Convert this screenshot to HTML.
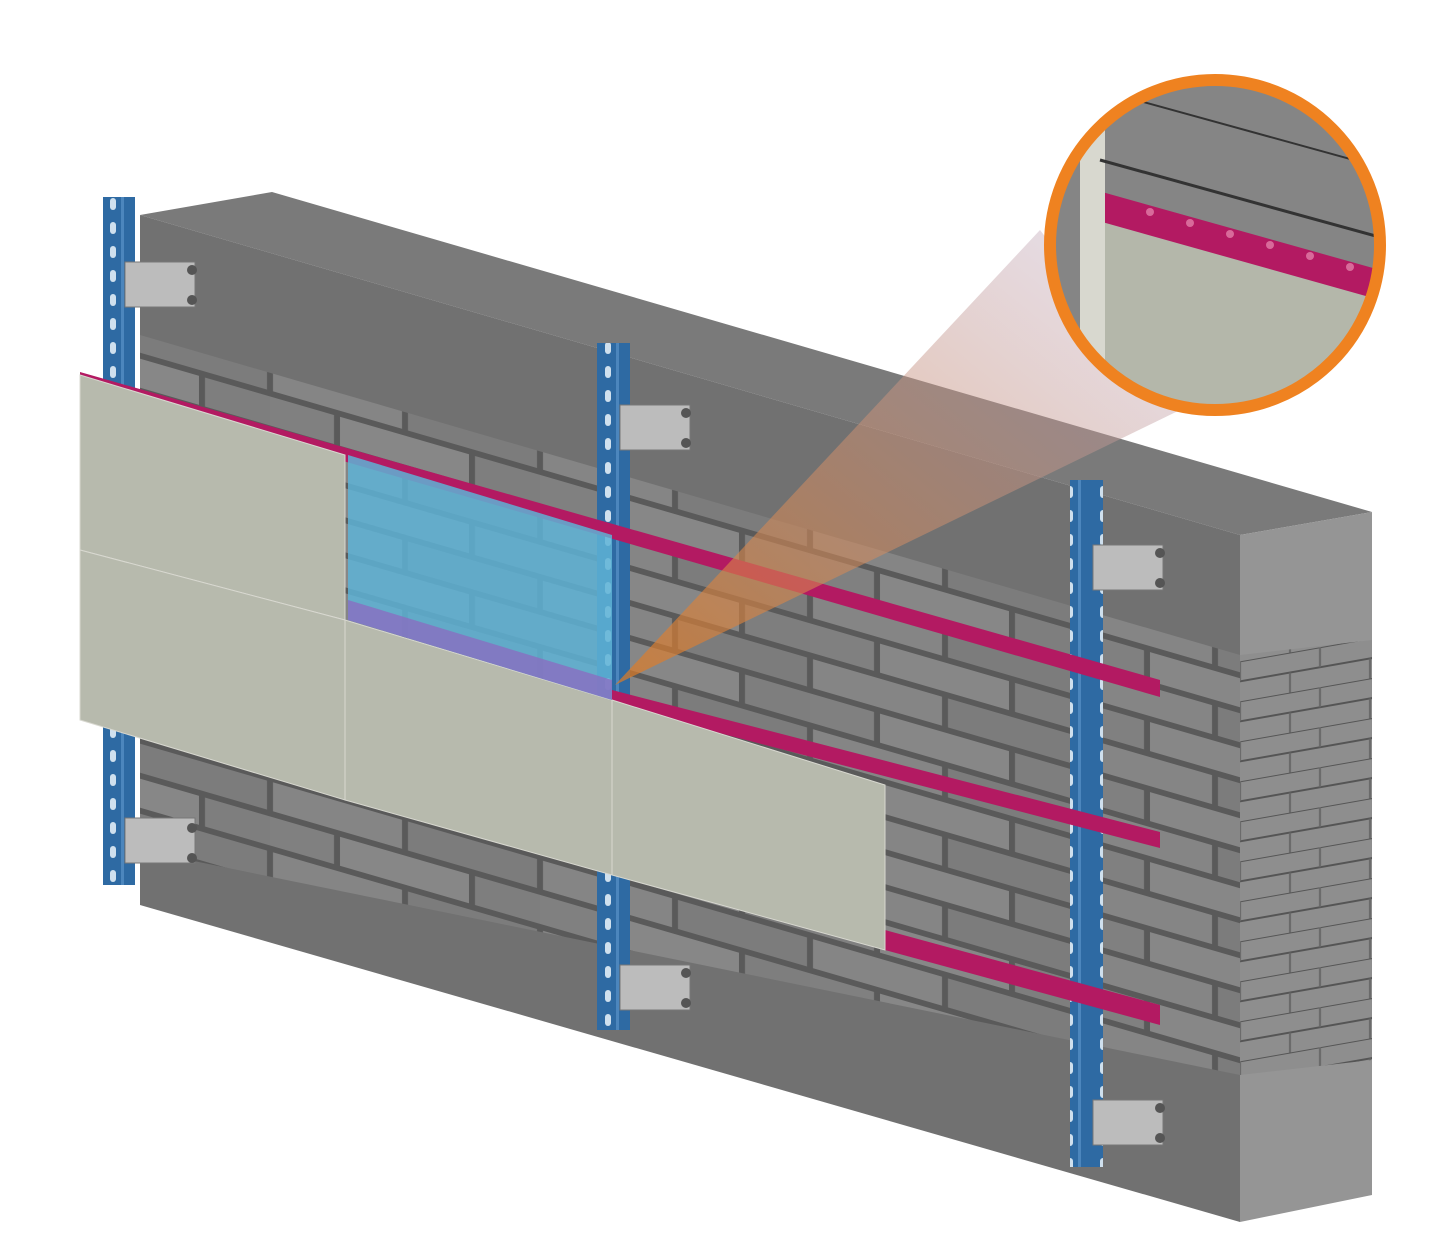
<!DOCTYPE html>
<html><head><meta charset="utf-8"><style>html,body{margin:0;padding:0;background:#fff}svg{display:block}</style></head><body>
<svg width="1446" height="1259" viewBox="0 0 1446 1259" xmlns="http://www.w3.org/2000/svg">
<defs>
<pattern id="brick" width="270" height="70" patternUnits="userSpaceOnUse" patternTransform="skewY(16.2)">
<rect width="270" height="70" fill="#5a5a5a"/>
<rect x="3" y="3" width="129" height="29" fill="#858585"/>
<rect x="138" y="3" width="129" height="29" fill="#7c7c7c"/>
<rect x="0" y="38" width="64" height="29" fill="#808080"/>
<rect x="70" y="38" width="129" height="29" fill="#878787"/>
<rect x="205" y="38" width="65" height="29" fill="#7e7e7e"/>
</pattern>
<pattern id="brick2" width="80" height="40" patternUnits="userSpaceOnUse" patternTransform="skewY(-10)">
<rect width="80" height="40" fill="#8e8e8e"/>
<line x1="0" y1="0" x2="80" y2="0" stroke="#555" stroke-width="2"/>
<line x1="0" y1="20" x2="80" y2="20" stroke="#555" stroke-width="2"/>
<line x1="40" y1="0" x2="40" y2="20" stroke="#666" stroke-width="2"/>
<line x1="10" y1="20" x2="10" y2="40" stroke="#666" stroke-width="2"/>
</pattern>
<pattern id="holes" width="33" height="24" patternUnits="userSpaceOnUse">
<rect width="33" height="24" fill="#2e6aa3"/>
<rect x="11" y="6" width="6" height="12" rx="3" fill="#cfe0ee"/>
<rect x="22" y="0" width="3" height="24" fill="#4c86bd"/>
</pattern>
<linearGradient id="cone" x1="0" y1="1" x2="1" y2="0">
<stop offset="0" stop-color="#e07a20" stop-opacity="0.7"/>
<stop offset="1" stop-color="#b9a8c8" stop-opacity="0.35"/>
</linearGradient>
<clipPath id="cc"><circle cx="1215" cy="245" r="165"/></clipPath>
</defs>
<polygon points="140,215 272,192 1372,512 1240,535" fill="#7a7a7a"/>
<polygon points="140,215 1240,535 1240,1222 140,905" fill="#717171"/>
<polygon points="140,335 1240,655 1240,1075 140,850" fill="url(#brick)"/>
<polygon points="1240,535 1372,512 1372,1195 1240,1222" fill="#959595"/>
<polygon points="1240,655 1372,640 1372,1060 1240,1075" fill="url(#brick2)"/>
<g>
<rect x="103" y="197" width="32" height="688" fill="url(#holes)"/>
<rect x="597" y="343" width="33" height="687" fill="url(#holes)"/>
<rect x="1070" y="480" width="33" height="687" fill="url(#holes)"/>
</g>
<g fill="#bcbcbc" stroke="#777">
<rect x="125" y="262" width="70" height="45"/><rect x="125" y="818" width="70" height="45"/>
<rect x="620" y="405" width="70" height="45"/><rect x="620" y="965" width="70" height="45"/>
<rect x="1093" y="545" width="70" height="45"/><rect x="1093" y="1100" width="70" height="45"/>
</g>
<g fill="#555">
<circle cx="192" cy="270" r="5"/><circle cx="192" cy="300" r="5"/><circle cx="192" cy="828" r="5"/><circle cx="192" cy="858" r="5"/>
<circle cx="686" cy="413" r="5"/><circle cx="686" cy="443" r="5"/><circle cx="686" cy="973" r="5"/><circle cx="686" cy="1003" r="5"/>
<circle cx="1160" cy="553" r="5"/><circle cx="1160" cy="583" r="5"/><circle cx="1160" cy="1108" r="5"/><circle cx="1160" cy="1138" r="5"/>
</g>
<polygon points="80,372 1160,680 1160,697 80,385" fill="#b31a62"/>
<polygon points="612,690 1160,832 1160,848 612,705" fill="#b31a62"/>
<polygon points="885,930 1160,1005 1160,1025 885,950" fill="#b31a62"/>
<g fill="#b7baad" stroke="#d8d8d0" stroke-width="1">
<polygon points="80,375 345,455 345,620 80,550"/>
<polygon points="80,550 345,620 345,800 80,720"/>
<polygon points="345,620 612,700 612,875 345,800"/>
<polygon points="612,700 885,785 885,950 612,875"/>
</g>
<polygon points="348,455 612,535 612,700 348,620" fill="#5eb3d6" opacity="0.85"/>
<polygon points="348,600 612,680 612,700 348,620" fill="#8a6ec0" opacity="0.8"/>
<polygon points="615,685 1040,230 1180,410" fill="url(#cone)"/>
<g clip-path="url(#cc)">
<rect x="1040" y="70" width="350" height="350" fill="#858585"/>
<polygon points="1085,215 1390,300 1390,420 1085,420" fill="#b4b7aa"/>
<polygon points="1095,190 1380,270 1380,300 1095,220" fill="#b31a62"/>
<rect x="1080" y="120" width="25" height="300" fill="#d8d8cf"/>
<line x1="1100" y1="160" x2="1390" y2="240" stroke="#333" stroke-width="3"/>
<line x1="1100" y1="90" x2="1390" y2="170" stroke="#333" stroke-width="2"/>
<g fill="#d86a9a"><circle cx="1150" cy="212" r="4"/><circle cx="1190" cy="223" r="4"/><circle cx="1230" cy="234" r="4"/><circle cx="1270" cy="245" r="4"/><circle cx="1310" cy="256" r="4"/><circle cx="1350" cy="267" r="4"/></g>
</g>
<circle cx="1215" cy="245" r="165" fill="none" stroke="#ef8220" stroke-width="12"/>
</svg>
</body></html>
